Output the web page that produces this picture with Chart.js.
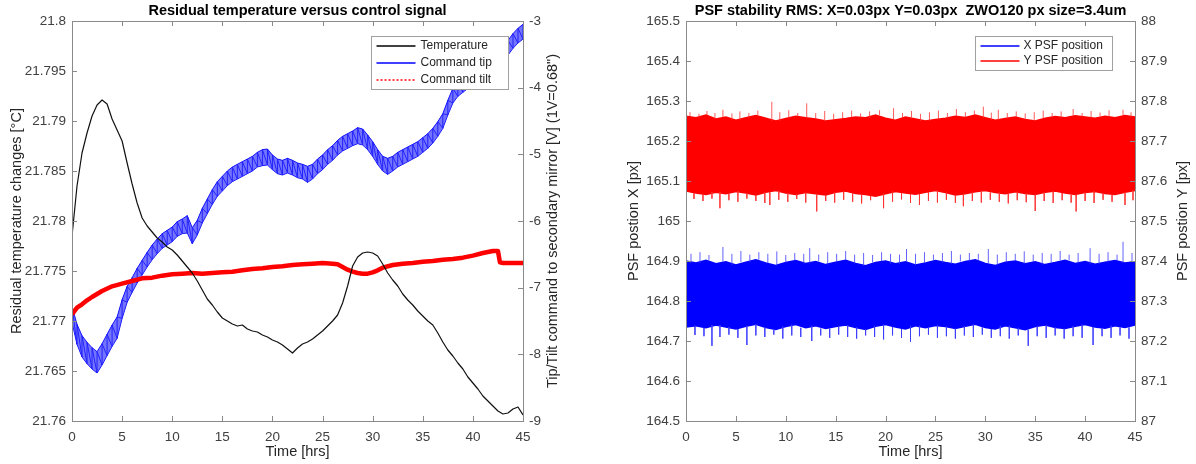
<!DOCTYPE html>
<html lang="en">
<head>
  <meta charset="UTF-8">
  <title>Residual temperature / PSF stability</title>
  <script src="https://cdn.jsdelivr.net/npm/chart.js"></script>
  <style>
    body { margin: 0; background: #fff; }
    .wrap { position: relative; width: 1196px; height: 464px; }
    canvas { position: absolute; top: 0; }
    #tempChart { left: 0; }
    #psfChart { left: 600px; }
  </style>
</head>
<body>
  <div class="wrap">
    <canvas id="tempChart" width="600" height="464"></canvas>
    <canvas id="psfChart" width="596" height="464"></canvas>
  </div>

  <script>
    // ---- left chart: temperature + tip/tilt command ----
    const halfHours = [0,0.5,1,1.5,2,2.5,3,3.5,4,4.5,5,5.5,6,6.5,7,7.5,8,8.5,9,9.5,
      10,10.5,11,11.5,12,12.5,13,13.5,14,14.5,15,15.5,16,16.5,17,17.5,18,18.5,19,19.5,
      20,20.5,21,21.5,22,22.5,23,23.5,24,24.5,25,25.5,26,26.5,27,27.5,28,28.5,29,29.5,
      30,30.5,31,31.5,32,32.5,33,33.5,34,34.5,35,35.5,36,36.5,37,37.5,38,38.5,39,39.5,
      40,40.5,41,41.5,42,42.5,43,43.5,44,44.5,45];

    const temperature = [21.7785,21.7835,21.7868,21.7888,21.7905,21.7916,21.7921,21.7917,21.7902,21.7891,
      21.7880,21.7858,21.7837,21.7818,21.7803,21.7795,21.7789,21.7783,21.7779,21.7774,
      21.7771,21.7766,21.7760,21.7754,21.7748,21.7740,21.7731,21.7722,21.7716,21.7709,
      21.7703,21.7700,21.7697,21.7695,21.7696,21.7692,21.7690,21.7689,21.7686,21.7684,
      21.7681,21.7679,21.7676,21.7672,21.7668,21.7673,21.7677,21.7679,21.7682,21.7686,
      21.7690,21.7695,21.7700,21.7706,21.7718,21.7735,21.7755,21.7764,21.7768,21.7769,
      21.7768,21.7765,21.7757,21.7748,21.7741,21.7735,21.7727,21.7721,21.7716,21.7710,
      21.7705,21.7700,21.7696,21.7688,21.7679,21.7671,21.7665,21.7658,21.7652,21.7644,
      21.7638,21.7632,21.7625,21.7620,21.7615,21.7610,21.7607,21.7608,21.7612,21.7614,21.7606];

    // command tip oscillates fast: upper / lower edge of the band
    const tipHigh = [-7.28,-7.55,-7.72,-7.82,-7.90,-7.96,-7.84,-7.70,-7.56,-7.44,
      -7.18,-6.98,-6.85,-6.71,-6.59,-6.47,-6.36,-6.27,-6.19,-6.14,
      -6.09,-6.01,-5.97,-5.92,-6.10,-5.99,-5.81,-5.67,-5.53,-5.41,
      -5.33,-5.25,-5.19,-5.15,-5.11,-5.07,-5.03,-4.97,-4.93,-4.92,
      -5.01,-5.07,-5.09,-5.06,-5.09,-5.13,-5.15,-5.18,-5.15,-5.07,
      -5.01,-4.93,-4.87,-4.79,-4.73,-4.69,-4.65,-4.60,-4.62,-4.71,
      -4.81,-4.93,-5.03,-5.06,-5.03,-4.97,-4.93,-4.89,-4.85,-4.81,
      -4.75,-4.69,-4.61,-4.51,-4.39,-4.19,-4.01,-3.91,-3.85,-3.79,
      -3.73,-3.67,-3.61,-3.55,-3.49,-3.43,-3.37,-3.29,-3.19,-3.11,-3.05];
    const tipLow = [-7.52,-7.85,-8.04,-8.14,-8.22,-8.28,-8.16,-8.02,-7.88,-7.76,
      -7.46,-7.22,-7.07,-6.93,-6.81,-6.69,-6.58,-6.49,-6.41,-6.36,
      -6.31,-6.23,-6.19,-6.18,-6.34,-6.21,-6.03,-5.89,-5.75,-5.63,
      -5.55,-5.47,-5.41,-5.37,-5.33,-5.29,-5.25,-5.19,-5.17,-5.16,
      -5.23,-5.29,-5.31,-5.28,-5.31,-5.35,-5.37,-5.42,-5.37,-5.29,
      -5.23,-5.15,-5.09,-5.01,-4.95,-4.91,-4.87,-4.84,-4.86,-4.93,
      -5.03,-5.15,-5.25,-5.30,-5.25,-5.19,-5.15,-5.11,-5.07,-5.03,
      -4.97,-4.91,-4.83,-4.73,-4.61,-4.41,-4.23,-4.13,-4.07,-4.01,
      -3.95,-3.89,-3.83,-3.77,-3.71,-3.65,-3.59,-3.51,-3.41,-3.33,-3.27];

    const tiltHours = [0,0.5,1,1.5,2,3,4,5,6,7,8,9,10,11,12,13,14,15,16,17,18,19,20,21,22,23,24,25,26,
      26.5,27,27.5,28,28.5,29,29.5,30,30.5,31,32,33,34,35,36,37,38,39,40,41,42,42.5,42.7,43,44,45];
    const tilt = [-7.40,-7.30,-7.25,-7.19,-7.14,-7.05,-6.98,-6.94,-6.90,-6.86,-6.85,-6.82,-6.80,-6.79,
      -6.78,-6.79,-6.78,-6.77,-6.76,-6.74,-6.72,-6.71,-6.69,-6.68,-6.66,-6.65,-6.64,-6.63,-6.64,
      -6.65,-6.69,-6.73,-6.76,-6.78,-6.79,-6.79,-6.77,-6.74,-6.70,-6.66,-6.64,-6.63,-6.61,-6.60,
      -6.58,-6.57,-6.55,-6.52,-6.48,-6.45,-6.45,-6.62,-6.63,-6.63,-6.63];

    // ---- right chart: PSF position noise bands ----
    const psfHours = [0,1,2,3,4,5,6,7,8,9,10,11,12,13,14,15,16,17,18,19,20,21,22,23,24,25,26,27,28,29,
      30,31,32,33,34,35,36,37,38,39,40,41,42,43,44,45];
    const xHigh = [164.900,164.895,164.902,164.893,164.898,164.890,164.897,164.903,164.895,164.889,
      164.896,164.901,164.894,164.899,164.891,164.897,164.902,164.894,164.888,164.896,
      164.900,164.893,164.898,164.890,164.895,164.901,164.896,164.892,164.899,164.903,
      164.894,164.889,164.897,164.900,164.893,164.898,164.891,164.896,164.902,164.894,
      164.899,164.892,164.897,164.901,164.895,164.898];
    const xLow = [164.735,164.738,164.733,164.740,164.735,164.730,164.737,164.742,164.734,164.729,
      164.736,164.741,164.733,164.738,164.731,164.736,164.740,164.734,164.729,164.737,
      164.741,164.735,164.730,164.738,164.733,164.739,164.736,164.731,164.737,164.742,
      164.734,164.730,164.738,164.733,164.728,164.736,164.740,164.734,164.731,164.737,
      164.741,164.735,164.732,164.738,164.734,164.740];
    const yHigh = [87.762,87.758,87.765,87.755,87.760,87.752,87.758,87.764,87.757,87.750,
      87.756,87.762,87.758,87.755,87.750,87.753,87.756,87.760,87.758,87.765,
      87.757,87.752,87.760,87.755,87.750,87.754,87.757,87.762,87.759,87.765,
      87.758,87.752,87.756,87.760,87.754,87.750,87.757,87.761,87.758,87.763,
      87.760,87.757,87.762,87.758,87.764,87.760];
    const yLow = [87.575,87.570,87.566,87.572,87.568,87.574,87.570,87.565,87.572,87.576,
      87.570,87.566,87.571,87.568,87.565,87.572,87.575,87.569,87.566,87.562,
      87.568,87.574,87.570,87.567,87.572,87.576,87.571,87.565,87.568,87.573,
      87.576,87.571,87.568,87.573,87.569,87.566,87.572,87.575,87.570,87.566,
      87.571,87.574,87.569,87.566,87.572,87.576];

    // single samples sticking out of the bands
    const ySpikeUpHours = [0.4,1.3,2.1,2.9,3.7,4.6,5.4,6.3,7.2,8.6,9.4,10.3,11.2,12.1,13.0,13.9,14.8,15.7,16.6,17.5,
      18.4,19.4,20.8,21.7,22.6,23.5,24.4,25.3,26.2,27.1,28.0,28.9,29.8,30.6,31.3,32.2,33.1,34.0,34.9,35.8,
      36.7,37.6,38.8,39.7,40.6,41.5,42.4,43.8,44.6];
    const ySpikeUp = [87.772,87.768,87.775,87.770,87.778,87.769,87.774,87.770,87.776,87.798,87.772,87.777,87.770,87.794,87.770,87.775,87.768,87.772,87.776,87.769,
      87.774,87.777,87.782,87.770,87.775,87.768,87.772,87.776,87.770,87.780,87.772,87.776,87.786,87.771,87.778,87.770,87.774,87.769,87.772,87.776,
      87.770,87.774,87.780,87.770,87.775,87.771,87.777,87.778,87.772];
    const ySpikeDownHours = [0.8,1.7,2.6,3.4,4.3,5.2,6.1,7.0,7.9,8.4,9.3,10.2,11.1,12.0,13.1,14.0,14.9,15.8,16.7,17.6,
      18.5,19.8,20.7,21.6,22.5,23.4,24.3,25.2,26.1,27.0,27.8,28.7,29.6,30.5,31.4,32.3,33.2,34.1,35.0,35.9,
      36.8,37.7,38.6,39.1,40.0,40.9,41.8,42.7,44.0,44.8];
    const ySpikeDown = [87.555,87.550,87.556,87.532,87.552,87.548,87.556,87.550,87.545,87.540,87.553,87.548,87.555,87.546,87.524,87.550,87.546,87.553,87.548,87.544,
      87.552,87.532,87.548,87.554,87.545,87.540,87.550,87.546,87.553,87.545,87.537,87.550,87.546,87.553,87.548,87.544,87.552,87.547,87.525,87.550,
      87.545,87.552,87.546,87.524,87.550,87.545,87.553,87.548,87.540,87.552];
    const xSpikeUpHours = [0.5,1.4,2.3,3.7,4.6,5.5,6.4,7.3,8.2,9.1,10.0,10.9,11.8,12.4,13.3,14.2,15.1,16.0,16.9,17.8,
      18.7,19.6,20.5,21.4,22.1,23.0,23.9,24.8,25.7,26.6,27.5,28.4,29.3,30.3,31.2,32.1,33.0,33.9,34.8,35.7,
      36.6,37.5,38.4,39.3,40.5,41.4,42.3,43.2,43.8,44.7];
    const xSpikeUp = [164.918,164.922,164.915,164.935,164.918,164.925,164.916,164.922,164.918,164.924,164.915,164.920,164.918,164.932,164.916,164.922,164.918,164.925,164.916,164.920,
      164.915,164.922,164.918,164.916,164.930,164.918,164.922,164.916,164.920,164.925,164.916,164.920,164.918,164.930,164.916,164.922,164.918,164.924,164.916,164.920,
      164.918,164.925,164.916,164.920,164.932,164.918,164.922,164.916,164.948,164.920];
    const xSpikeDownHours = [0.0,0.9,1.8,2.6,3.4,4.3,5.2,6.1,7.0,7.9,8.8,9.7,10.6,11.5,12.6,13.5,14.4,15.3,16.2,17.1,
      18.0,18.9,19.8,20.7,21.6,22.5,23.4,24.3,25.2,26.1,27.0,27.9,28.8,29.7,30.6,31.5,32.4,33.3,34.3,35.2,
      36.1,37.0,37.9,38.8,39.7,40.8,41.7,42.6,43.5,44.4];
    const xSpikeDown = [164.600,164.715,164.712,164.688,164.710,164.716,164.708,164.690,164.714,164.710,164.716,164.706,164.714,164.710,164.700,164.714,164.708,164.716,164.710,164.706,
      164.714,164.710,164.704,164.714,164.708,164.698,164.712,164.716,164.708,164.712,164.706,164.714,164.710,164.716,164.708,164.712,164.706,164.714,164.688,164.712,
      164.708,164.714,164.706,164.712,164.708,164.690,164.712,164.708,164.714,164.706];

    const xTicks = [0,5,10,15,20,25,30,35,40,45];

    // legend entries (kept outside the chart options)
    const tempLegend = [
      { text: 'Temperature', stroke: '#000000', dash: [] },
      { text: 'Command tip', stroke: '#0000ff', dash: [] },
      { text: 'Command tilt', stroke: '#ff0000', dash: [2, 2] }
    ];
    const psfLegend = [
      { text: 'X PSF position', stroke: '#0000ff', dash: [] },
      { text: 'Y PSF position', stroke: '#ff0000', dash: [] }
    ];

    const FONT = '"Liberation Sans", Arial, Helvetica, sans-serif';
    Chart.defaults.font.family = FONT;
    Chart.defaults.font.size = 13.5;
    Chart.defaults.color = '#404040';

    function toPoints(xs, ys) {
      return xs.map((x, i) => ({ x: x, y: ys[i] }));
    }

    // sawtooth through the band: up the edge at each sample, down to the next one
    function sawtooth(xs, lows, highs) {
      const pts = [];
      xs.forEach((x, i) => { pts.push({ x: x, y: lows[i] }, { x: x, y: highs[i] }); });
      return pts;
    }

    // vertical strokes from the band edge out to each spike value
    function spikes(hours, tips, edge) {
      const pts = [];
      hours.forEach((h, i) => {
        const base = edge[psfHours.indexOf(Math.round(h))];
        pts.push({ x: h, y: base }, { x: h, y: tips[i] }, { x: h, y: null });
      });
      return pts;
    }

    // MATLAB style box with inward ticks
    const framePlugin = {
      id: 'frame',
      afterDatasetsDraw(chart) {
        const { ctx, chartArea: a, scales } = chart;
        ctx.save();
        ctx.strokeStyle = '#8a8a8a';
        ctx.lineWidth = 1;
        ctx.strokeRect(Math.round(a.left) + 0.5, Math.round(a.top) + 0.5,
          Math.round(a.right - a.left), Math.round(a.bottom - a.top));
        ctx.beginPath();
        scales.x.ticks.forEach(t => {
          const px = Math.round(scales.x.getPixelForValue(t.value)) + 0.5;
          ctx.moveTo(px, a.bottom); ctx.lineTo(px, a.bottom - 5);
          ctx.moveTo(px, a.top); ctx.lineTo(px, a.top + 5);
        });
        scales.yL.ticks.forEach(t => {
          const py = Math.round(scales.yL.getPixelForValue(t.value)) + 0.5;
          ctx.moveTo(a.left, py); ctx.lineTo(a.left + 5, py);
        });
        scales.yR.ticks.forEach(t => {
          const py = Math.round(scales.yR.getPixelForValue(t.value)) + 0.5;
          ctx.moveTo(a.right, py); ctx.lineTo(a.right - 5, py);
        });
        ctx.stroke();
        ctx.restore();
      }
    };

    const boxLegend = {
      id: 'boxLegend',
      afterDraw(chart, args, opts) {
        const ctx = chart.ctx, a = chart.chartArea;
        const items = opts.entries === 'psf' ? psfLegend : tempLegend;
        const x0 = Math.round(a.right - opts.right - opts.width) + 0.5;
        const y0 = Math.round(a.top + opts.top) + 0.5;
        const h = items.length * opts.row + opts.pad * 2;
        ctx.save();
        ctx.fillStyle = '#fff';
        ctx.fillRect(x0, y0, opts.width, h);
        ctx.lineWidth = 1;
        ctx.strokeStyle = '#a0a0a0';
        ctx.strokeRect(x0, y0, opts.width, h);
        ctx.font = '12px ' + FONT;
        ctx.textBaseline = 'middle';
        ctx.textAlign = 'left';
        for (let i = 0; i < items.length; i++) {
          const it = items[i];
          const cy = Math.round(y0 + opts.pad + opts.row * (i + 0.5));
          ctx.save();
          ctx.lineWidth = 1.6;
          ctx.lineCap = 'butt';
          ctx.strokeStyle = it.stroke;
          ctx.setLineDash(it.dash);
          ctx.beginPath();
          ctx.moveTo(x0 + opts.lineStart, cy);
          ctx.lineTo(x0 + opts.lineEnd, cy);
          ctx.stroke();
          ctx.restore();
          ctx.fillStyle = '#262626';
          ctx.fillText(it.text, x0 + opts.textStart, cy);
        }
        ctx.restore();
      }
    };

    // right hand axis title, reading bottom to top like the left one
    const sideTitle = {
      id: 'sideTitle',
      afterDraw(chart, args, opts) {
        const ctx = chart.ctx, a = chart.chartArea;
        ctx.save();
        ctx.translate(opts.x, (a.top + a.bottom) / 2);
        ctx.rotate(-Math.PI / 2);
        ctx.textAlign = 'center';
        ctx.textBaseline = 'middle';
        ctx.fillStyle = '#262626';
        ctx.font = '14.5px ' + FONT;
        ctx.fillText(opts.text, 0, 0);
        ctx.restore();
      }
    };

    function xScale() {
      return {
        type: 'linear', min: 0, max: 45,
        afterBuildTicks: s => { s.ticks = xTicks.map(v => ({ value: v })); },
        ticks: { padding: 8, maxRotation: 0, autoSkip: false },
        grid: { display: false, drawTicks: false },
        border: { display: false },
        title: { display: true, text: 'Time [hrs]', color: '#262626', font: { size: 14.5 }, padding: { top: 0, bottom: 3 } },
        afterFit: s => { s.height = 43; }
      };
    }

    function yScale(pos, min, max, step, width, digits, title, titlePad) {
      return {
        type: 'linear', position: pos, min: min, max: max,
        ticks: { stepSize: step, padding: 6, callback: v => String(Number(v.toFixed(digits))) },
        grid: { display: false, drawTicks: false },
        border: { display: false },
        title: title ? { display: true, text: title, color: '#262626', font: { size: 14.5 }, padding: { top: titlePad, bottom: 0 } } : { display: false },
        afterFit: s => { s.width = width; }
      };
    }

    new Chart(document.getElementById('tempChart'), {
      type: 'line',
      data: {
        datasets: [
          { label: 'Temperature', data: toPoints(halfHours, temperature), yAxisID: 'yL',
            borderColor: '#111', borderWidth: 1.2, order: 1 },
          { label: 'Command tip', data: toPoints(halfHours, tipHigh), yAxisID: 'yR',
            borderColor: '#1010ff', borderWidth: 1, backgroundColor: 'rgba(50,50,255,0.68)', fill: '+1', order: 3 },
          { label: 'tip low', data: toPoints(halfHours, tipLow), yAxisID: 'yR',
            borderColor: '#1010ff', borderWidth: 1, fill: false, order: 3 },
          { label: 'tip saw', data: sawtooth(halfHours, tipLow, tipHigh), yAxisID: 'yR',
            borderColor: '#0000ff', borderWidth: 1, fill: false, order: 3 },
          { label: 'Command tilt', data: toPoints(tiltHours, tilt), yAxisID: 'yR',
            borderColor: '#ff0000', borderWidth: 4.5, fill: false, order: 2 }
        ]
      },
      options: {
        responsive: false,
        animation: false,
        events: [],
        elements: { point: { radius: 0 }, line: { tension: 0, borderJoinStyle: 'round' } },
        layout: { padding: 0 },
        plugins: {
          legend: { display: false },
          tooltip: { enabled: false },
          title: { display: true, fullSize: false, text: 'Residual temperature versus control signal',
            color: '#000', font: { size: 14.5, weight: 'bold' }, padding: { top: 2, bottom: 1.6 } },
          boxLegend: { entries: 'temp', right: 15, top: 15, width: 137, row: 17, pad: 1,
            lineStart: 5, lineEnd: 44, textStart: 49 },
          sideTitle: { x: 553, text: 'Tip/Tilt command to secondary mirror [V] (1V=0.68")' }
        },
        scales: {
          x: xScale(),
          yL: yScale('left', 21.76, 21.8, 0.005, 72, 3, 'Residual temperature changes [°C]', 8),
          yR: yScale('right', -9, -3, 1, 77, 0, null, 0)
        }
      },
      plugins: [framePlugin, boxLegend, sideTitle]
    });

    new Chart(document.getElementById('psfChart'), {
      type: 'line',
      data: {
        datasets: [
          { label: 'X PSF position', data: toPoints(psfHours, xHigh), yAxisID: 'yL',
            borderColor: '#0000ff', borderWidth: 1.5, backgroundColor: '#0000ff', fill: '+1', order: 2 },
          { label: 'x low', data: toPoints(psfHours, xLow), yAxisID: 'yL',
            borderColor: '#0000ff', borderWidth: 1.5, fill: false, order: 2 },
          { label: 'Y PSF position', data: toPoints(psfHours, yHigh), yAxisID: 'yR',
            borderColor: '#ff0000', borderWidth: 1.5, backgroundColor: '#ff0000', fill: '+1', order: 1 },
          { label: 'y low', data: toPoints(psfHours, yLow), yAxisID: 'yR',
            borderColor: '#ff0000', borderWidth: 1.5, fill: false, order: 1 },
          { label: 'x up', data: spikes(xSpikeUpHours, xSpikeUp, xHigh), yAxisID: 'yL',
            borderColor: 'rgba(60,60,255,0.8)', borderWidth: 1, fill: false, spanGaps: false },
          { label: 'x down', data: spikes(xSpikeDownHours, xSpikeDown, xLow), yAxisID: 'yL',
            borderColor: 'rgba(60,60,255,0.8)', borderWidth: 1, fill: false, spanGaps: false },
          { label: 'y up', data: spikes(ySpikeUpHours, ySpikeUp, yHigh), yAxisID: 'yR',
            borderColor: 'rgba(255,50,50,0.8)', borderWidth: 1, fill: false, spanGaps: false },
          { label: 'y down', data: spikes(ySpikeDownHours, ySpikeDown, yLow), yAxisID: 'yR',
            borderColor: 'rgba(255,50,50,0.8)', borderWidth: 1, fill: false, spanGaps: false }
        ]
      },
      options: {
        responsive: false,
        animation: false,
        events: [],
        elements: { point: { radius: 0 }, line: { tension: 0 } },
        layout: { padding: 0 },
        plugins: {
          legend: { display: false },
          tooltip: { enabled: false },
          title: { display: true, fullSize: false, text: 'PSF stability RMS: X=0.03px Y=0.03px  ZWO120 px size=3.4um',
            color: '#000', font: { size: 14.5, weight: 'bold' }, padding: { top: 2, bottom: 1.6 } },
          boxLegend: { entries: 'psf', right: 23, top: 15, width: 137, row: 14.5, pad: 2.5,
            lineStart: 5, lineEnd: 44, textStart: 48 },
          sideTitle: { x: 583, text: 'PSF postion Y [px]' }
        },
        scales: {
          x: xScale(),
          yL: yScale('left', 164.5, 165.5, 0.1, 86, 1, 'PSF postion X [px]', 25),
          yR: yScale('right', 87, 88, 0.1, 61, 1, null, 0)
        }
      },
      plugins: [framePlugin, boxLegend, sideTitle]
    });
  </script>
</body>
</html>
